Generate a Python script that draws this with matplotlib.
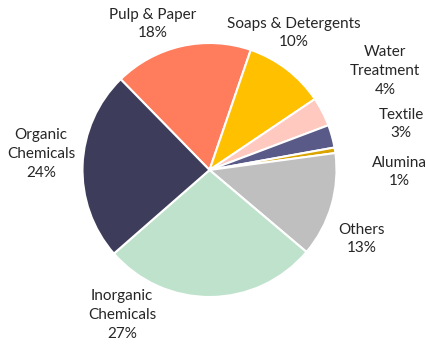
import matplotlib
matplotlib.use("Agg")
import matplotlib.pyplot as plt

plt.rcParams['font.family'] = ['Lato', 'DejaVu Sans']

# market share by end-use segment (percent)
segments = ["Pulp & Paper", "Soaps & Detergents", "Water\nTreatment", "Textile",
            "Alumina", "Others", "Inorganic\nChemicals", "Organic\nChemicals"]
shares = [17.6, 10.3, 3.7, 2.9, 0.7, 13.3, 27.4, 24.1]
colors = ["#FF7C5C", "#FFC000", "#FFC9BF", "#595A88",
          "#D9A400", "#BFBFBF", "#BFE2CC", "#3D3D5B"]

# label anchor points in pixels (x from left, y from top)
label_px = [(153, 24), (294, 33), (385, 71), (401, 124),
            (399, 172), (362, 239), (122, 315), (41, 154)]

W, H = 427, 345
cx, cy, r = 209.5, 170, 127

fig = plt.figure(figsize=(W / 100, H / 100), dpi=100)
ax = fig.add_axes([(cx - r) / W, (H - cy - r) / H, 2 * r / W, 2 * r / H])

ax.pie(shares, colors=colors, startangle=134.4, counterclock=False,
       wedgeprops=dict(edgecolor="white", linewidth=1.5))
ax.set_xlim(-1, 1)
ax.set_ylim(-1, 1)
ax.axis("off")

for name, val, (px, py) in zip(segments, shares, label_px):
    ax.text((px - cx) / r, (cy - py) / r, f"{name}\n{val:.0f}%",
            ha="center", va="center", fontsize=11, color="#262626",
            linespacing=1.42, clip_on=False)

fig.savefig("out.png", dpi=100, facecolor="white")
